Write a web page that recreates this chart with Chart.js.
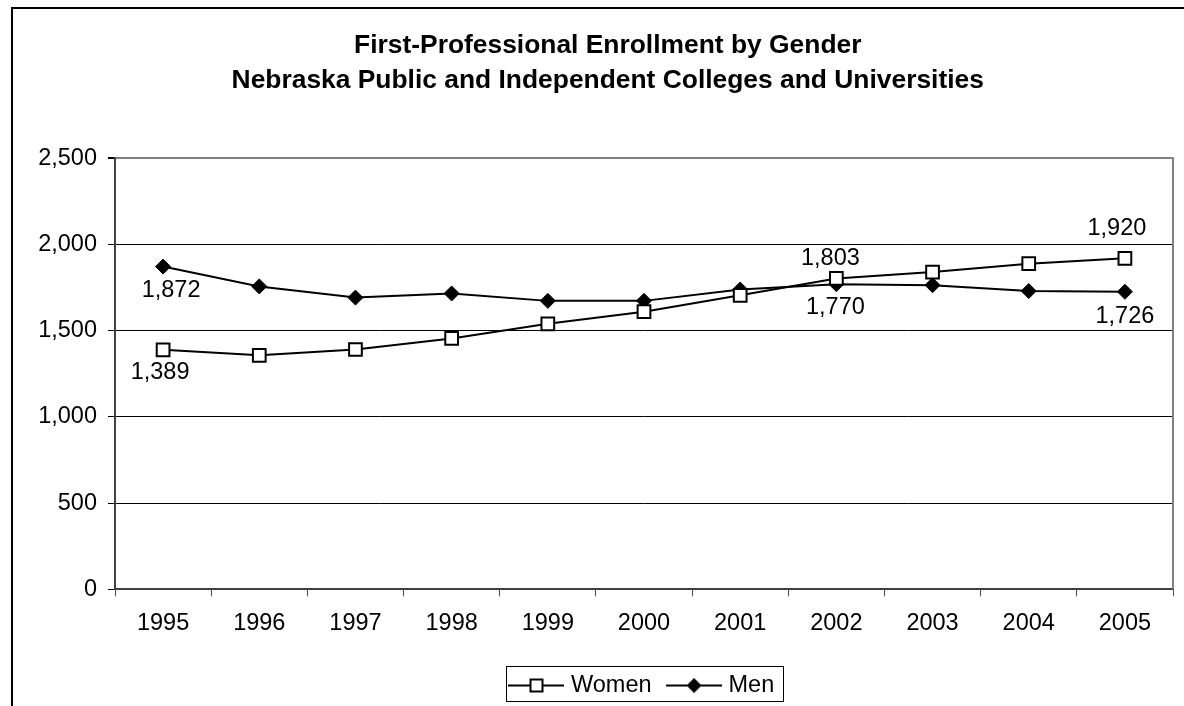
<!DOCTYPE html>
<html>
<head>
<meta charset="utf-8">
<script src="https://cdn.jsdelivr.net/npm/chart.js@4/dist/chart.umd.min.js"></script>
<style>
html,body{margin:0;padding:0;background:#fff;}
#wrap{position:relative;width:1184px;height:706px;}
canvas{display:block;}
</style>
</head>
<body>
<div id="wrap"><canvas id="c" width="1184" height="706" style="width:1184px;height:706px"></canvas></div>
<script>
// ---- data ----
const years = ['1995','1996','1997','1998','1999','2000','2001','2002','2003','2004','2005'];
const women = [1389, 1357, 1391, 1455, 1540, 1610, 1705, 1803, 1840, 1889, 1920];
const men   = [1872, 1757, 1692, 1716, 1673, 1673, 1739, 1770, 1764, 1730, 1726];
const yTicks = [0, 500, 1000, 1500, 2000, 2500];
const seriesNames = ['Women', 'Men'];
const titleLines = ['First-Professional Enrollment by Gender',
                    'Nebraska Public and Independent Colleges and Universities'];
// which points carry a value label (index into the series)
const labeledWomen = [0, 7, 10];
const labeledMen = [0, 7, 10];

// ---- styles ----
const FONT = "'Liberation Sans', Arial, Helvetica, sans-serif";
const TXT = 23.5;
Chart.defaults.font.family = FONT;
Chart.defaults.color = '#000';

// label offsets relative to the point (style only)
const labelOffsets = [
  {0: [-3, 23], 7: [-6, -20], 10: [-8, -30]},
  {0: [8, 24], 7: [-1, 23], 10: [0, 25]}
];

function legendSymbol(kind) {
  const c = document.createElement('canvas');
  c.width = 56; c.height = 20;
  const g = c.getContext('2d');
  g.strokeStyle = '#000'; g.lineWidth = 2;
  g.beginPath(); g.moveTo(0, 10); g.lineTo(56, 10); g.stroke();
  if (kind === 'square') {
    g.fillStyle = '#fff';
    g.fillRect(22, 4, 12, 12);
    g.strokeRect(22, 4, 12, 12);
  } else {
    g.fillStyle = '#000';
    g.beginPath(); g.moveTo(28, 2.5); g.lineTo(35.5, 10); g.lineTo(28, 17.5); g.lineTo(20.5, 10); g.closePath(); g.fill();
  }
  return c;
}
const symbols = [legendSymbol('square'), legendSymbol('diamond')];

const framePlugin = {
  id: 'frame',
  beforeDraw(chart) {
    const ctx = chart.ctx;
    ctx.save();
    ctx.fillStyle = '#fff';
    ctx.fillRect(0, 0, chart.width, chart.height);
    ctx.strokeStyle = '#000'; ctx.lineWidth = 2;
    ctx.beginPath();
    ctx.moveTo(12, chart.height + 2); ctx.lineTo(12, 8); ctx.lineTo(chart.width + 2, 8);
    ctx.stroke();
    ctx.restore();
  },
  afterDraw(chart) {
    const ctx = chart.ctx, a = chart.chartArea;
    ctx.save();
    // right border of plot area
    ctx.strokeStyle = '#808080'; ctx.lineWidth = 2;
    ctx.beginPath(); ctx.moveTo(a.right, a.top - 1); ctx.lineTo(a.right, a.bottom); ctx.stroke();
    // legend border
    const hb = chart.legend.legendHitBoxes;
    if (hb && hb.length) {
      const first = hb[0], last = hb[hb.length - 1];
      const cy = first.top + first.height / 2;
      const l = first.left - 8, r = last.left + last.width + 8;
      ctx.strokeStyle = '#000'; ctx.lineWidth = 1;
      ctx.strokeRect(Math.round(l) + 0.5, Math.round(cy - 20) + 0.5, Math.round(r - l), 35);
    }
    ctx.restore();
  }
};

const valueLabels = {
  id: 'valueLabels',
  afterDatasetsDraw(chart) {
    const ctx = chart.ctx;
    ctx.save();
    ctx.font = TXT + 'px ' + FONT;
    ctx.fillStyle = '#000';
    ctx.textAlign = 'center';
    ctx.textBaseline = 'middle';
    const lists = [labeledWomen, labeledMen];
    chart.data.datasets.forEach((ds, di) => {
      const meta = chart.getDatasetMeta(di);
      lists[di].forEach(i => {
        const pt = meta.data[i];
        const off = labelOffsets[di][i];
        ctx.fillText(ds.data[i].toLocaleString('en-US'), pt.x + off[0], pt.y + off[1]);
      });
    });
    ctx.restore();
  }
};

new Chart(document.getElementById('c'), {
  type: 'line',
  data: {
    labels: years,
    datasets: [
      {
        label: seriesNames[0], data: women,
        borderColor: '#000', borderWidth: 2, tension: 0,
        pointStyle: 'rect', pointRadius: 9, pointHoverRadius: 9,
        pointBackgroundColor: '#fff', pointBorderColor: '#000', pointBorderWidth: 2
      },
      {
        label: seriesNames[1], data: men,
        borderColor: '#000', borderWidth: 2, tension: 0,
        pointStyle: 'rectRot', pointRadius: 7.5, pointHoverRadius: 7.5,
        pointBackgroundColor: '#000', pointBorderColor: '#000', pointBorderWidth: 1
      }
    ]
  },
  options: {
    responsive: false,
    animation: false,
    devicePixelRatio: 1,
    layout: { padding: { left: 36, right: 4.5, top: 0, bottom: 0 } },
    scales: {
      x: {
        type: 'category', offset: true,
        grid: { offset: true, drawOnChartArea: false, drawTicks: true, tickLength: 7, color: '#505050', lineWidth: 1 },
        border: { display: true, color: '#404040', width: 2 },
        ticks: { font: { size: TXT }, padding: 13, maxRotation: 0, autoSkip: false, color: '#000' },
        afterFit: s => { s.height = 64.7; }
      },
      y: {
        min: 0, max: 2500,
        afterBuildTicks: s => { s.ticks = yTicks.map(v => ({ value: v })); },
        grid: {
          color: c => (c.tick && c.tick.value === 2500) ? '#808080' : '#000',
          lineWidth: c => (c.tick && c.tick.value === 2500) ? 2 : 1,
          tickColor: '#000', tickLength: 7, drawTicks: true
        },
        border: { display: true, color: '#404040', width: 2 },
        ticks: { font: { size: TXT }, padding: 11, color: '#000' },
        afterFit: s => { s.width = 79; }
      }
    },
    plugins: {
      title: {
        display: true, text: titleLines, color: '#000',
        font: { size: 26.4, weight: 'bold', lineHeight: '35px' },
        padding: { top: 28.5, bottom: 59.8 }
      },
      legend: {
        display: true, position: 'bottom', fullSize: false, maxHeight: 52,
        labels: {
          usePointStyle: true, pointStyleWidth: 45.5, padding: 19.75,
          font: { size: TXT }, color: '#000',
          generateLabels: chart => chart.data.datasets.map((ds, i) => ({
            text: ds.label, pointStyle: symbols[i], datasetIndex: i, hidden: false,
            lineWidth: 0, strokeStyle: '#000', fillStyle: '#000', fontColor: '#000'
          }))
        }
      },
      tooltip: { enabled: false }
    }
  },
  plugins: [framePlugin, valueLabels]
});
</script>
</body>
</html>
